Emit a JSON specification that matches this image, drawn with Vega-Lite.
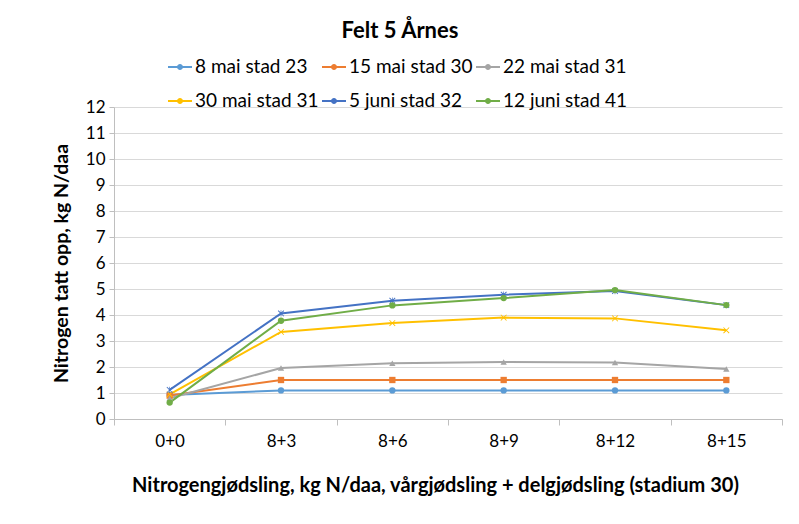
{
  "$schema": "https://vega.github.io/schema/vega-lite/v6.json",
  "autosize": {"type": "none"},
  "width": 668,
  "height": 312,
  "padding": {"left": 114, "top": 107, "right": 17, "bottom": 105},
  "background": "white",
  "title": {"text": "Felt 5 Årnes", "font": "Lato", "fontSize": 22, "fontWeight": "bold", "color": "#000000", "anchor": "middle", "dx": -48, "offset": 12},
  "config": {
    "view": {"stroke": null},
    "font": "Lato"
  },
  "data": {"values": [
    {"serie": "8 mai stad 23", "gj": "0+0", "n": 0.92},
    {"serie": "8 mai stad 23", "gj": "8+3", "n": 1.1},
    {"serie": "8 mai stad 23", "gj": "8+6", "n": 1.1},
    {"serie": "8 mai stad 23", "gj": "8+9", "n": 1.1},
    {"serie": "8 mai stad 23", "gj": "8+12", "n": 1.1},
    {"serie": "8 mai stad 23", "gj": "8+15", "n": 1.1},
    {"serie": "15 mai stad 30", "gj": "0+0", "n": 0.9},
    {"serie": "15 mai stad 30", "gj": "8+3", "n": 1.5},
    {"serie": "15 mai stad 30", "gj": "8+6", "n": 1.5},
    {"serie": "15 mai stad 30", "gj": "8+9", "n": 1.5},
    {"serie": "15 mai stad 30", "gj": "8+12", "n": 1.5},
    {"serie": "15 mai stad 30", "gj": "8+15", "n": 1.5},
    {"serie": "22 mai stad 31", "gj": "0+0", "n": 0.8},
    {"serie": "22 mai stad 31", "gj": "8+3", "n": 1.96},
    {"serie": "22 mai stad 31", "gj": "8+6", "n": 2.14},
    {"serie": "22 mai stad 31", "gj": "8+9", "n": 2.19},
    {"serie": "22 mai stad 31", "gj": "8+12", "n": 2.17},
    {"serie": "22 mai stad 31", "gj": "8+15", "n": 1.92},
    {"serie": "30 mai stad 31", "gj": "0+0", "n": 0.95},
    {"serie": "30 mai stad 31", "gj": "8+3", "n": 3.35},
    {"serie": "30 mai stad 31", "gj": "8+6", "n": 3.69},
    {"serie": "30 mai stad 31", "gj": "8+9", "n": 3.9},
    {"serie": "30 mai stad 31", "gj": "8+12", "n": 3.87},
    {"serie": "30 mai stad 31", "gj": "8+15", "n": 3.41},
    {"serie": "5 juni stad 32", "gj": "0+0", "n": 1.12},
    {"serie": "5 juni stad 32", "gj": "8+3", "n": 4.06},
    {"serie": "5 juni stad 32", "gj": "8+6", "n": 4.55},
    {"serie": "5 juni stad 32", "gj": "8+9", "n": 4.78},
    {"serie": "5 juni stad 32", "gj": "8+12", "n": 4.92},
    {"serie": "5 juni stad 32", "gj": "8+15", "n": 4.38},
    {"serie": "12 juni stad 41", "gj": "0+0", "n": 0.63},
    {"serie": "12 juni stad 41", "gj": "8+3", "n": 3.78},
    {"serie": "12 juni stad 41", "gj": "8+6", "n": 4.37},
    {"serie": "12 juni stad 41", "gj": "8+9", "n": 4.65},
    {"serie": "12 juni stad 41", "gj": "8+12", "n": 4.96},
    {"serie": "12 juni stad 41", "gj": "8+15", "n": 4.38}
  ]},
  "encoding": {
    "x": {
      "field": "gj", "type": "ordinal",
      "sort": ["0+0", "8+3", "8+6", "8+9", "8+12", "8+15"],
      "scale": {"type": "band", "paddingInner": 0, "paddingOuter": 0},
      "bandPosition": 0.5,
      "axis": {
        "title": "Nitrogengjødsling, kg N/daa, vårgjødsling + delgjødsling (stadium 30)",
        "titleFont": "Lato", "titleFontSize": 20, "titleFontWeight": "bold", "titleColor": "#000000", "titlePadding": 26, "titleX": 321,
        "labelFont": "Lato", "labelFontSize": 17, "labelColor": "#000000", "labelAngle": 0, "labelPadding": 8,
        "tickBand": "extent", "tickSize": 6, "tickColor": "#BFBFBF", "domainColor": "#BFBFBF", "grid": false
      }
    },
    "y": {
      "field": "n", "type": "quantitative",
      "scale": {"domain": [0, 12], "nice": false},
      "axis": {
        "title": "Nitrogen tatt opp, kg N/daa",
        "titleFont": "Lato", "titleFontSize": 19.5, "titleFontWeight": "bold", "titleColor": "#000000", "titlePadding": 14,
        "labelFont": "Lato", "labelFontSize": 17, "labelColor": "#000000", "labelPadding": 4,
        "values": [0,1,2,3,4,5,6,7,8,9,10,11,12],
        "tickSize": 5, "tickColor": "#BFBFBF", "domainColor": "#BFBFBF", "gridColor": "#D9D9D9", "gridWidth": 1
      }
    }
  },
  "layer": [
    {
      "mark": {"type": "line", "strokeWidth": 2},
      "encoding": {
        "color": {
          "field": "serie", "type": "nominal",
          "sort": ["8 mai stad 23", "15 mai stad 30", "22 mai stad 31", "30 mai stad 31", "5 juni stad 32", "12 juni stad 41"],
          "scale": {
            "domain": ["8 mai stad 23", "15 mai stad 30", "22 mai stad 31", "30 mai stad 31", "5 juni stad 32", "12 juni stad 41"],
            "range": ["#5B9BD5", "#ED7D31", "#A5A5A5", "#FFC000", "#4472C4", "#70AD47"]
          },
          "legend": {
            "title": null, "orient": "none", "legendX": 54, "legendY": -52, "direction": "horizontal", "columns": 3,
            "symbolType": "M-1,-0.08H1V0.08H-1Z M-0.25,0A0.25,0.25,0,1,1,0.25,0A0.25,0.25,0,1,1,-0.25,0Z",
            "symbolSize": 576, "symbolStrokeWidth": 0, "symbolOpacity": 1, "labelFont": "Lato", "labelFontSize": 19, "labelColor": "#000000",
            "labelOffset": 3, "columnPadding": 3, "rowPadding": 12, "labelLimit": 300,
            "encode": {"symbols": {"update": {"fill": {"scale": "color", "field": "value"}, "strokeWidth": {"value": 0}}}}
          }
        }
      }
    },
    {
      "mark": {"type": "point", "filled": true, "opacity": 1, "size": 40},
      "encoding": {
        "color": {
          "field": "serie", "type": "nominal",
          "scale": {
            "domain": ["8 mai stad 23", "15 mai stad 30", "22 mai stad 31", "30 mai stad 31", "5 juni stad 32", "12 juni stad 41"],
            "range": ["#5B9BD5", "#ED7D31", "#A5A5A5", "#FFC000", "#4472C4", "#70AD47"]
          },
          "legend": null
        },
        "shape": {
          "field": "serie", "type": "nominal",
          "scale": {
            "domain": ["8 mai stad 23", "15 mai stad 30", "22 mai stad 31", "30 mai stad 31", "5 juni stad 32", "12 juni stad 41"],
            "range": ["circle", "square", "triangle-up",
              "M-1,-0.8L-0.8,-1L0,-0.2L0.8,-1L1,-0.8L0.2,0L1,0.8L0.8,1L0,0.2L-0.8,1L-1,0.8L-0.2,0Z",
              "M-1,-0.8L-0.8,-1L0,-0.2L0.8,-1L1,-0.8L0.2,0L1,0.8L0.8,1L0,0.2L-0.8,1L-1,0.8L-0.2,0Z M-0.1,-1H0.1V1H-0.1Z",
              "circle"]
          },
          "legend": null
        }
      }
    }
  ],
  "resolve": {"legend": {"color": "independent", "shape": "independent"}}
}
